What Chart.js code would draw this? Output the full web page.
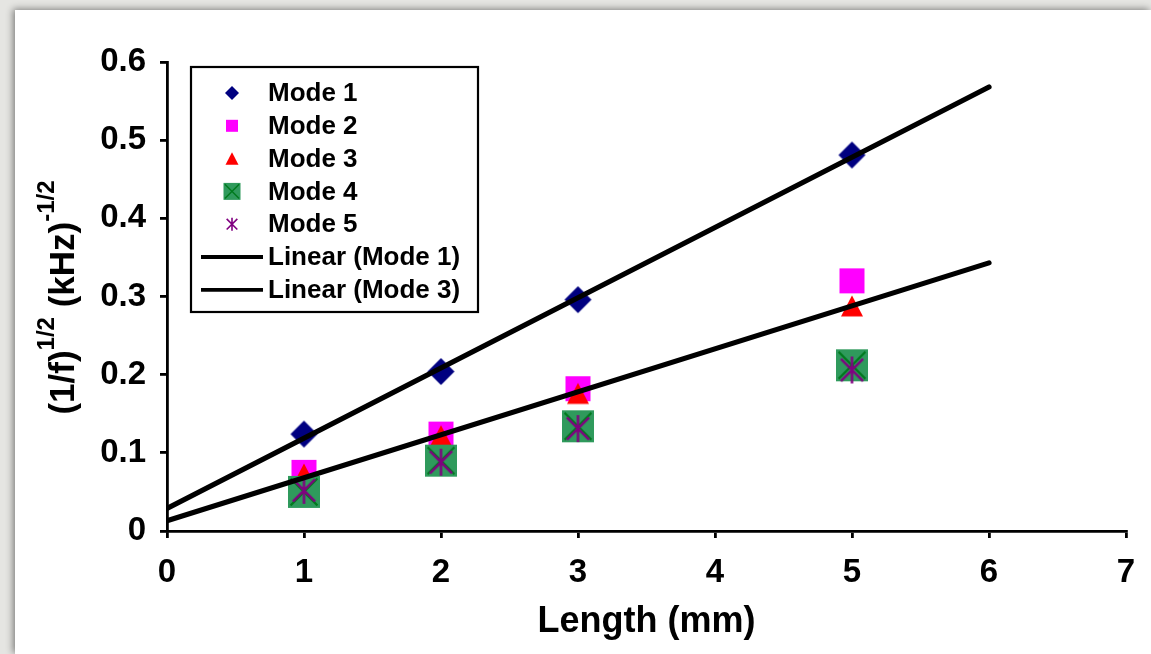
<!DOCTYPE html>
<html>
<head>
<meta charset="utf-8">
<script src="https://cdn.jsdelivr.net/npm/chart.js@4.4.1/dist/chart.umd.min.js"></script>
<style>
  html,body{margin:0;padding:0;overflow:hidden;background:#e5e5e2;}
  #panel{position:absolute;left:15px;top:10px;right:0;bottom:0;background:#fff;box-shadow:-2px -1px 7px rgba(0,0,0,.45);}
  #wrap{position:absolute;left:0;top:0;width:1151px;height:654px;}
</style>
</head>
<body>
<div id="panel"></div>
<div id="wrap"><canvas id="c" width="1151" height="654"></canvas></div>
<script>
// data
const lengths = [1, 2, 3, 5];
const mode1 = [0.124, 0.204, 0.296, 0.481];
const mode2 = [0.075, 0.124, 0.182, 0.320];
const mode3 = [0.073, 0.122, 0.176, 0.288];
const mode4 = [0.050, 0.090, 0.134, 0.212];
const mode5 = [0.052, 0.088, 0.131, 0.206];
const trendX = [0, 6];
const linear1 = [0.029, 0.568];
const linear3 = [0.013, 0.343];
const xTickLabels = ['0','1','2','3','4','5','6','7'];
const yTickLabels = ['0','0.1','0.2','0.3','0.4','0.5','0.6'];
const seriesNames = ['Mode 1','Mode 2','Mode 3','Mode 4','Mode 5','Linear (Mode 1)','Linear (Mode 3)'];
const xTitle = 'Length (mm)';
const yTitleParts = [['(1/f)',0],['1/2',1],[' (kHz)',0],['-1/2',1]];

const FONT = "'Liberation Sans', Arial, Helvetica, sans-serif";

function drawMarker(ctx,kind,x,y,s){
  ctx.save();
  ctx.beginPath();
  if(kind==='diamond'){
    ctx.fillStyle='#000080';
    ctx.moveTo(x,y-s/2);ctx.lineTo(x+s/2,y);ctx.lineTo(x,y+s/2);ctx.lineTo(x-s/2,y);ctx.closePath();ctx.fill();
  }else if(kind==='square'){
    ctx.fillStyle='#ff00ff';
    ctx.fillRect(x-s/2,y-s/2,s,s);
  }else if(kind==='triangle'){
    ctx.fillStyle='#ff0000';
    ctx.moveTo(x,y-s*0.48);ctx.lineTo(x+s/2,y+s*0.48);ctx.lineTo(x-s/2,y+s*0.48);ctx.closePath();ctx.fill();
  }else if(kind==='boxx'){
    ctx.fillStyle='#2f9a5c';
    ctx.fillRect(x-s/2,y-s/2,s,s);
    ctx.strokeStyle='#007a1e';ctx.lineWidth=Math.max(1.5,s/14);
    const d=s/2-s*0.08;
    ctx.moveTo(x-d,y-d);ctx.lineTo(x+d,y+d);ctx.moveTo(x+d,y-d);ctx.lineTo(x-d,y+d);ctx.stroke();
  }else if(kind==='star'){
    ctx.strokeStyle='#800080';ctx.lineWidth=Math.max(1.6,s/11);
    const d=s/2;
    ctx.moveTo(x,y-d);ctx.lineTo(x,y+d);
    ctx.moveTo(x-d*0.82,y-d*0.82);ctx.lineTo(x+d*0.82,y+d*0.82);
    ctx.moveTo(x+d*0.82,y-d*0.82);ctx.lineTo(x-d*0.82,y+d*0.82);
    ctx.stroke();
  }
  ctx.restore();
}
function markerImage(kind,s){
  const c=document.createElement('canvas');
  c.width=s+4;c.height=s+4;
  drawMarker(c.getContext('2d'),kind,(s+4)/2,(s+4)/2,s);
  return c;
}
const pts=(xs,ys)=>xs.map((x,i)=>({x,y:ys[i]}));

const markers=[['diamond',27,14],['square',25,12],['triangle',22,13],['boxx',32,17],['star',27,13]];
const modeData=[mode1,mode2,mode3,mode4,mode5];

const datasets=modeData.map((d,i)=>({
  label:seriesNames[i],
  data:pts(lengths,d),
  pointStyle:markerImage(markers[i][0],markers[i][1]),
  marker:markers[i],
  showLine:false,
  order:6-i
}));
[linear1,linear3].forEach((d,i)=>datasets.push({
  label:seriesNames[5+i],
  type:'line',
  data:pts(trendX,d),
  borderColor:'#000',borderWidth:5.2,borderCapStyle:'round',
  pointRadius:0,fill:false,order:0
}));

const legendBox={
  id:'legendBox',
  afterDraw(chart){
    const ctx=chart.ctx,ca=chart.chartArea;
    const L=ca.left+24,T=ca.top+5,W=287,H=245;
    ctx.save();
    ctx.fillStyle='#fff';ctx.fillRect(L,T,W,H);
    ctx.strokeStyle='#000';ctx.lineWidth=2.2;ctx.strokeRect(L,T,W,H);
    ctx.font='bold 26px '+FONT;ctx.fillStyle='#000';ctx.textBaseline='middle';
    chart.data.datasets.forEach((ds,i)=>{
      const y=T+26+i*32.8;
      if(ds.marker){drawMarker(ctx,ds.marker[0],L+41,y,ds.marker[2]);}
      else{ctx.beginPath();ctx.strokeStyle='#000';ctx.lineWidth=3.8;ctx.moveTo(L+10,y);ctx.lineTo(L+72,y);ctx.stroke();}
      ctx.fillStyle='#000';
      ctx.fillText(ds.label,L+77,y+1);
    });
    ctx.restore();
  }
};
const yTitle={
  id:'yTitle',
  afterDraw(chart){
    const ctx=chart.ctx,ca=chart.chartArea;
    ctx.save();
    ctx.translate(74,(ca.top+ca.bottom)/2+1);
    ctx.rotate(-Math.PI/2);
    ctx.fillStyle='#000';ctx.textBaseline='alphabetic';
    const fMain='bold 35px '+FONT,fSup='bold 24px '+FONT;
    let total=0;
    yTitleParts.forEach(p=>{ctx.font=p[1]?fSup:fMain;total+=ctx.measureText(p[0]).width;});
    let x=-total/2;
    yTitleParts.forEach(p=>{
      ctx.font=p[1]?fSup:fMain;
      ctx.fillText(p[0],x,p[1]?-20:0);
      x+=ctx.measureText(p[0]).width;
    });
    ctx.restore();
  }
};

Chart.defaults.font.family=FONT;
new Chart(document.getElementById('c'),{
  type:'scatter',
  data:{datasets},
  options:{
    responsive:false,animation:false,
    layout:{padding:{left:0,top:62,right:25,bottom:0}},
    plugins:{legend:{display:false},tooltip:{enabled:false}},
    scales:{
      x:{
        type:'linear',min:0,max:7,
        ticks:{stepSize:1,color:'#000',font:{size:33,weight:'bold'},padding:15,
          callback:v=>xTickLabels[v]},
        grid:{drawOnChartArea:false,tickLength:7,color:'#000',lineWidth:2.8},
        border:{display:true,color:'#000',width:2.8},
        title:{display:true,text:xTitle,color:'#000',font:{size:36,weight:'bold'},padding:{top:0,bottom:10}},
        afterFit:s=>{s.height=123;}
      },
      y:{
        type:'linear',min:0,max:0.6,
        ticks:{stepSize:0.1,color:'#000',font:{size:33,weight:'bold'},padding:14,
          callback:v=>yTickLabels[Math.round(v*10)]},
        grid:{drawOnChartArea:false,tickLength:7,color:'#000',lineWidth:2.8},
        border:{display:true,color:'#000',width:2.8},
        afterFit:s=>{s.width=167;}
      }
    }
  },
  plugins:[legendBox,yTitle]
});
</script>
</body>
</html>
